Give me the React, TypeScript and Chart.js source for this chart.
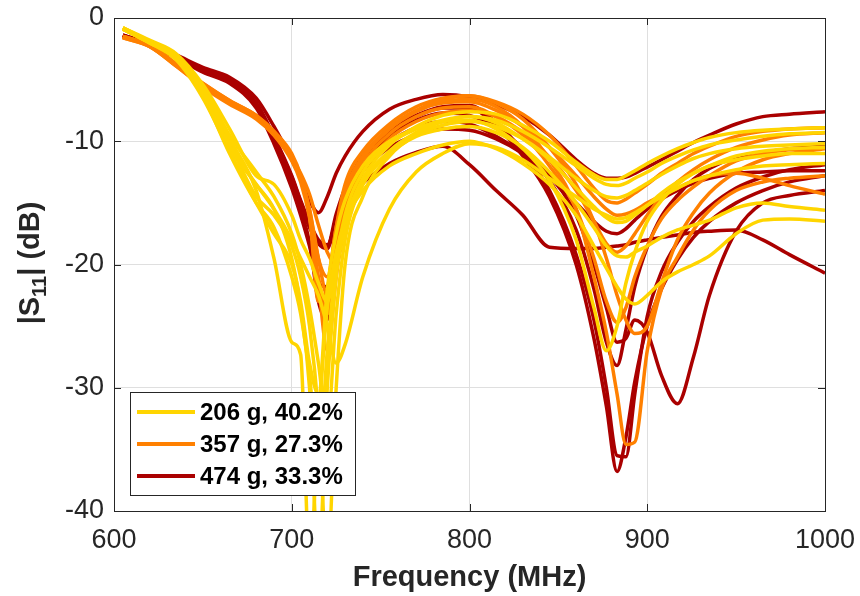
import React, { useEffect, useRef } from "react";
import { Chart, registerables } from "chart.js";

Chart.register(...registerables);

// Frequency grid (MHz)
const FREQ = [605, 620, 635, 650, 665, 680, 690, 700, 705, 710, 715, 720, 725, 730, 740, 755, 770, 785, 800, 815, 830, 845, 860, 870, 877, 883, 888, 893, 900, 908, 917, 926, 935, 950, 965, 980, 1000];

// 206 g, 40.2% (yellow)
const Y1 = [-0.8, -1.9, -3.1, -5.8, -9.8, -14.0, -19.5, -26.3, -27.3, -44.0, -33.0, -23.5, -19.0, -16.5, -14.0, -12.0, -11.0, -10.3, -10.0, -10.6, -11.8, -13.5, -16.0, -18.5, -20.3, -21.8, -22.8, -23.2, -22.5, -21.4, -20.6, -20.0, -19.3, -17.5, -16.4, -16.3, -16.5];
const Y2 = [-0.9, -2.0, -3.3, -6.2, -10.3, -13.5, -15.5, -19.5, -23.5, -30.0, -44.0, -30.0, -21.0, -17.0, -13.5, -11.0, -9.6, -9.0, -8.8, -9.3, -10.5, -12.5, -15.0, -17.0, -18.5, -19.3, -19.4, -19.0, -18.5, -17.8, -17.2, -16.8, -16.4, -15.4, -15.0, -15.3, -15.6];
const Y3 = [-0.8, -2.0, -3.4, -6.5, -10.8, -15.0, -17.5, -20.0, -23.0, -28.0, -30.5, -22.0, -17.5, -14.8, -12.0, -10.0, -9.0, -8.4, -8.3, -9.0, -10.6, -13.2, -18.0, -23.5, -27.0, -25.0, -21.5, -19.0, -16.5, -14.8, -13.5, -12.6, -12.0, -11.2, -10.8, -10.6, -10.5];
const Y4 = [-0.9, -2.0, -3.2, -6.0, -10.5, -13.5, -15.5, -18.0, -19.5, -21.0, -22.5, -25.0, -28.0, -26.5, -21.0, -15.5, -12.5, -11.0, -10.2, -10.5, -11.5, -13.0, -14.5, -15.5, -16.0, -16.3, -16.2, -15.8, -15.2, -14.5, -13.8, -13.2, -12.8, -12.3, -12.0, -11.9, -11.8];
const Y5 = [-0.8, -1.9, -3.0, -5.6, -9.5, -12.5, -14.5, -17.5, -20.0, -23.5, -28.0, -33.0, -24.0, -18.0, -13.5, -10.8, -9.3, -8.4, -8.0, -8.3, -9.2, -10.5, -12.0, -13.0, -13.5, -13.6, -13.4, -13.0, -12.5, -11.8, -11.2, -10.7, -10.3, -9.9, -9.6, -9.4, -9.3];
const Y6 = [-0.9, -2.0, -3.2, -6.0, -10.2, -14.5, -16.0, -18.5, -21.0, -25.0, -32.0, -44.0, -30.0, -20.0, -14.5, -11.2, -9.5, -8.7, -8.4, -8.8, -9.8, -11.3, -13.0, -14.0, -14.5, -14.6, -14.4, -14.0, -13.4, -12.7, -12.0, -11.4, -11.0, -10.6, -10.4, -10.3, -10.2];
const Y7 = [-0.9, -2.0, -3.3, -6.3, -11.0, -15.0, -17.0, -21.0, -24.0, -29.0, -36.0, -27.0, -20.0, -16.0, -12.5, -10.2, -9.0, -8.3, -8.0, -8.5, -9.8, -11.5, -13.8, -15.3, -16.2, -16.6, -16.5, -16.0, -15.2, -14.2, -13.3, -12.6, -12.0, -11.5, -11.2, -11.0, -11.0];
const Y8 = [-0.8, -1.8, -2.9, -5.4, -9.0, -12.8, -13.5, -16.0, -18.0, -19.5, -21.5, -23.0, -19.5, -16.5, -13.0, -10.3, -8.8, -7.9, -7.6, -7.8, -8.7, -10.0, -11.7, -12.7, -13.1, -13.1, -12.8, -12.4, -11.8, -11.2, -10.6, -10.1, -9.7, -9.3, -9.1, -9.0, -8.9];

// 357 g, 27.3% (orange)
const O1 = [-1.5, -2.3, -3.8, -5.4, -6.8, -8.0, -9.4, -11.4, -13.0, -15.5, -19.5, -22.5, -18.5, -14.8, -11.4, -9.0, -7.6, -6.8, -6.6, -7.2, -8.8, -11.5, -15.5, -21.0, -25.5, -30.5, -34.6, -34.4, -27.0, -22.0, -19.4, -17.2, -15.6, -14.0, -13.3, -13.0, -12.8];
const O2 = [-1.6, -2.3, -3.9, -5.5, -6.9, -8.1, -9.5, -11.6, -13.3, -16.2, -21.0, -24.0, -19.0, -15.0, -11.5, -9.0, -7.5, -6.6, -6.3, -6.9, -8.2, -10.5, -13.5, -16.5, -19.5, -22.5, -24.5, -25.6, -25.0, -21.5, -18.0, -15.8, -14.2, -12.5, -11.5, -11.0, -10.6];
const O3 = [-1.5, -2.2, -3.7, -5.3, -6.7, -7.9, -9.2, -11.2, -13.0, -16.0, -21.5, -27.0, -21.0, -16.0, -12.0, -9.4, -8.0, -7.3, -7.2, -8.0, -9.5, -12.0, -15.5, -19.5, -23.0, -24.7, -23.5, -21.0, -18.5, -16.3, -14.8, -13.7, -12.8, -11.6, -11.0, -10.7, -10.5];
const O4 = [-1.6, -2.3, -3.9, -5.6, -7.0, -8.2, -9.5, -11.3, -12.6, -14.3, -16.8, -19.0, -20.0, -16.5, -12.5, -9.8, -8.4, -7.7, -7.5, -8.0, -9.3, -11.3, -14.0, -16.5, -18.3, -19.0, -18.5, -17.5, -16.0, -14.5, -13.3, -12.3, -11.5, -10.5, -9.9, -9.5, -9.3];
const O5 = [-1.5, -2.2, -3.8, -5.4, -6.8, -8.0, -9.3, -11.2, -12.9, -15.6, -19.5, -21.0, -17.0, -14.0, -11.2, -8.9, -7.5, -6.9, -6.8, -7.5, -8.8, -10.5, -12.8, -14.5, -15.5, -16.0, -15.9, -15.6, -15.0, -14.4, -13.8, -13.2, -12.8, -12.6, -13.0, -13.6, -14.3];
const O6 = [-1.5, -2.2, -3.8, -5.3, -6.7, -7.9, -9.2, -11.0, -12.8, -16.0, -23.0, -22.0, -17.0, -13.5, -10.8, -8.6, -7.2, -6.5, -6.3, -6.8, -7.8, -9.5, -12.0, -13.8, -14.8, -15.0, -14.7, -14.2, -13.5, -12.6, -11.8, -11.0, -10.4, -9.6, -9.2, -9.0, -8.9];

// 474 g, 33.3% (dark red)
const R1 = [-1.4, -2.1, -3.0, -4.0, -4.8, -6.5, -8.8, -11.5, -13.0, -14.8, -15.8, -14.5, -12.6, -11.2, -9.2, -7.4, -6.6, -6.2, -6.4, -7.0, -8.0, -9.5, -11.5, -12.6, -13.0, -13.0, -12.9, -12.6, -12.1, -11.5, -10.8, -10.1, -9.5, -8.6, -8.0, -7.8, -7.6];
const R2 = [-1.4, -2.1, -3.1, -4.2, -5.0, -6.9, -9.6, -12.8, -14.8, -16.6, -18.0, -18.4, -16.6, -15.0, -13.4, -11.8, -10.9, -10.4, -11.9, -14.0, -16.0, -18.6, -18.7, -18.7, -18.6, -18.5, -18.4, -18.2, -18.0, -17.8, -17.6, -17.4, -17.3, -17.2, -18.0, -19.2, -20.7];
const R3 = [-1.5, -2.2, -3.2, -4.3, -5.2, -7.0, -9.8, -13.0, -15.0, -16.9, -18.3, -18.7, -16.2, -14.0, -11.4, -9.3, -8.0, -7.3, -7.3, -8.8, -11.2, -14.5, -20.0, -26.0, -31.5, -36.8, -34.0, -29.5, -25.0, -22.0, -19.6, -17.8, -16.5, -15.0, -14.0, -13.3, -12.8];
const R4 = [-1.4, -2.2, -3.2, -4.3, -5.1, -6.9, -9.7, -12.9, -14.9, -16.8, -18.1, -18.5, -15.9, -13.8, -11.2, -9.1, -7.9, -7.2, -7.1, -8.5, -10.8, -14.0, -19.2, -24.5, -30.0, -35.5, -35.6, -30.5, -24.2, -20.6, -18.2, -16.5, -15.3, -13.8, -12.9, -12.3, -11.9];
const R5 = [-1.5, -2.2, -3.2, -4.4, -5.3, -7.3, -10.2, -13.8, -16.0, -18.5, -21.5, -21.8, -17.5, -14.8, -12.2, -10.1, -8.9, -8.4, -8.6, -9.6, -11.0, -12.8, -16.0, -20.0, -23.5, -26.3, -26.0, -24.5, -25.5, -29.0, -31.3, -27.5, -22.5, -17.3, -15.0, -14.4, -14.0];
const R6 = [-1.4, -2.1, -3.1, -4.2, -5.1, -7.0, -10.0, -13.5, -15.6, -18.2, -23.0, -24.5, -18.5, -15.2, -12.2, -9.6, -8.3, -7.7, -7.9, -8.9, -10.6, -13.2, -17.2, -22.0, -26.3, -28.2, -25.3, -21.8, -18.6, -16.1, -14.4, -13.1, -12.2, -11.3, -10.9, -10.6, -10.4];
const R7 = [-1.5, -2.2, -3.2, -4.3, -5.2, -7.1, -9.9, -13.2, -15.2, -17.0, -18.3, -18.5, -16.4, -14.6, -12.4, -10.5, -9.5, -9.0, -9.1, -9.8, -11.0, -12.8, -15.0, -16.5, -17.3, -17.5, -17.1, -16.4, -15.5, -14.7, -14.0, -13.4, -13.0, -12.6, -12.5, -12.4, -12.4];

const GROUP_SERIES = [
  [Y1, Y2, Y3, Y4, Y5, Y6, Y7, Y8],
  [O1, O2, O3, O4, O5, O6],
  [R1, R2, R3, R4, R5, R6, R7],
];
const LEGEND_LABELS = ["206 g, 40.2%", "357 g, 27.3%", "474 g, 33.3%"];
const GROUP_COLORS = ["#FFD500", "#FF8000", "#AA0000"];
const X_TICKS = [600, 700, 800, 900, 1000];
const Y_TICKS = [0, -10, -20, -30, -40];

const FONT = '"Liberation Sans", Arial, Helvetica, sans-serif';
const AXIS_COLOR = "#262626";

const overlayPlugin = {
  id: "overlay",
  afterDraw(chart: any) {
    const { ctx, chartArea } = chart;
    const { left, right, top, bottom } = chartArea;
    const xs = chart.scales.x;
    const ys = chart.scales.y;
    ctx.save();
    // box
    ctx.strokeStyle = AXIS_COLOR;
    ctx.lineWidth = 1;
    ctx.beginPath();
    ctx.moveTo(Math.round(left) + 0.5, Math.round(top) + 0.5);
    ctx.lineTo(Math.round(right) + 0.5, Math.round(top) + 0.5);
    ctx.lineTo(Math.round(right) + 0.5, Math.round(bottom) + 0.5);
    ctx.stroke();
    // inner ticks
    ctx.beginPath();
    X_TICKS.forEach((v) => {
      const px = Math.round(xs.getPixelForValue(v)) + 0.5;
      ctx.moveTo(px, bottom);
      ctx.lineTo(px, bottom - 7);
      ctx.moveTo(px, top);
      ctx.lineTo(px, top + 7);
    });
    Y_TICKS.forEach((v) => {
      const py = Math.round(ys.getPixelForValue(v)) + 0.5;
      ctx.moveTo(left, py);
      ctx.lineTo(left + 7, py);
      ctx.moveTo(right, py);
      ctx.lineTo(right - 7, py);
    });
    ctx.stroke();

    // legend
    const lx = 130.5, ly = 392.5, lw = 225, lh = 103;
    ctx.fillStyle = "#ffffff";
    ctx.fillRect(lx, ly, lw, lh);
    ctx.strokeStyle = AXIS_COLOR;
    ctx.lineWidth = 1;
    ctx.strokeRect(lx, ly, lw, lh);
    ctx.font = `bold 24px ${FONT}`;
    ctx.textBaseline = "middle";
    ctx.textAlign = "left";
    LEGEND_LABELS.forEach((label, i) => {
      const yy = 412 + i * 32;
      ctx.strokeStyle = GROUP_COLORS[i];
      ctx.lineWidth = 4;
      ctx.beginPath();
      ctx.moveTo(137, yy);
      ctx.lineTo(195, yy);
      ctx.stroke();
      ctx.fillStyle = "#000000";
      ctx.fillText(label, 200, yy + 1);
    });

    // x title
    ctx.fillStyle = AXIS_COLOR;
    ctx.font = `bold 29px ${FONT}`;
    ctx.textAlign = "center";
    ctx.textBaseline = "middle";
    ctx.fillText("Frequency (MHz)", (left + right) / 2, 578);

    // y title with subscript
    ctx.translate(31, 263);
    ctx.rotate(-Math.PI / 2);
    const big = `bold 29px ${FONT}`;
    const small = `bold 20px ${FONT}`;
    ctx.textAlign = "left";
    ctx.textBaseline = "middle";
    ctx.font = big;
    const w1 = ctx.measureText("|S").width;
    const w3 = ctx.measureText("| (dB)").width;
    ctx.font = small;
    const w2 = ctx.measureText("11").width;
    const total = w1 + w2 + w3;
    let x0 = -total / 2;
    ctx.font = big;
    ctx.fillText("|S", x0, 0);
    x0 += w1;
    ctx.font = small;
    ctx.fillText("11", x0, 9);
    x0 += w2;
    ctx.font = big;
    ctx.fillText("| (dB)", x0, 0);
    ctx.restore();
  },
};

export default function App() {
  const canvasRef = useRef<HTMLCanvasElement | null>(null);

  useEffect(() => {
    if (!canvasRef.current) return;
    const datasets: any[] = [];
    GROUP_SERIES.forEach((group, gi) => {
      group.forEach((series) => {
        datasets.push({
          data: FREQ.map((f, i) => ({ x: f, y: series[i] })),
          borderColor: GROUP_COLORS[gi],
          backgroundColor: GROUP_COLORS[gi],
          borderWidth: 3.5,
          pointRadius: 0,
          fill: false,
          cubicInterpolationMode: "monotone",
          clip: 0,
        });
      });
    });

    const chart = new Chart(canvasRef.current, {
      type: "line",
      data: { datasets },
      options: {
        animation: false,
        responsive: false,
        layout: { padding: { left: 0, right: 35, top: 18, bottom: 0 } },
        plugins: { legend: { display: false }, tooltip: { enabled: false } },
        scales: {
          x: {
            type: "linear",
            min: 600,
            max: 1000,
            afterFit: (s: any) => {
              s.height = 85;
              s.paddingLeft = 0;
              s.paddingRight = 0;
            },
            afterBuildTicks: (s: any) => { s.ticks = X_TICKS.map((v) => ({ value: v })); },
            ticks: {
              font: { size: 27, family: FONT },
              color: AXIS_COLOR,
              padding: 13,
              maxRotation: 0,
              autoSkip: false,
              callback: (v: any) => String(v),
            },
            grid: { color: "#dfdfdf", lineWidth: 1, drawTicks: false },
            border: { color: AXIS_COLOR, width: 1 },
          },
          y: {
            type: "linear",
            min: -40,
            max: 0,
            afterFit: (s: any) => {
              s.width = 114;
              s.paddingTop = 0;
              s.paddingBottom = 0;
            },
            afterBuildTicks: (s: any) => { s.ticks = Y_TICKS.map((v) => ({ value: v })); },
            ticks: {
              font: { size: 27, family: FONT },
              color: AXIS_COLOR,
              padding: 10,
              autoSkip: false,
              callback: (v: any) => String(v),
            },
            grid: { color: "#dfdfdf", lineWidth: 1, drawTicks: false },
            border: { color: AXIS_COLOR, width: 1 },
          },
        },
      },
      plugins: [overlayPlugin],
    });
    return () => chart.destroy();
  }, []);

  return (
    <div style={{ position: "fixed", left: 0, top: 0, width: 860, height: 596, background: "#fff" }}>
      <canvas ref={canvasRef} width={860} height={596} style={{ display: "block" }} />
    </div>
  );
}
